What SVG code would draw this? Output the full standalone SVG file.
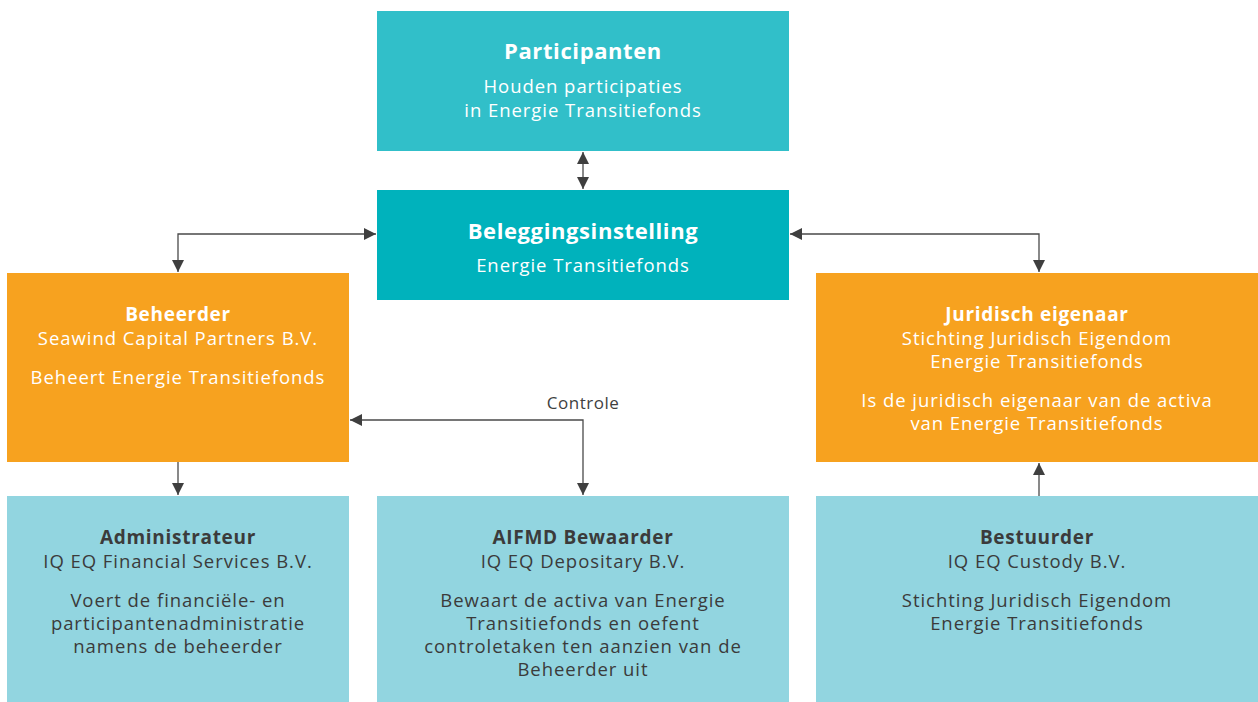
<svg xmlns="http://www.w3.org/2000/svg" width="1258" height="702" viewBox="0 0 1258 702">
  <defs>
    <style>
      text { font-family: "Open Sans", "Noto Sans", sans-serif; text-anchor: middle; }
      .w { fill: #ffffff; }
      .d { fill: #3b3b3b; }
      .big { font-size: 22px; font-weight: 700; letter-spacing: 0.6px; }
      .ttl { font-size: 19px; font-weight: 700; letter-spacing: 0.7px; }
      .txt { font-size: 18.5px; letter-spacing: 0.95px; }
      .lbl { font-size: 17px; font-weight: 400; letter-spacing: 0.5px; fill: #3f3f3f; }
      .link { fill: none; stroke: #4a4a4a; stroke-width: 1.3; }
    </style>
    <marker id="ah" viewBox="0 0 10 10" refX="10" refY="5" markerWidth="12" markerHeight="12" markerUnits="userSpaceOnUse" orient="auto-start-reverse">
      <path d="M0,0 L10,5 L0,10 z" fill="#3f3f3f"/>
    </marker>
  </defs>

  <rect width="1258" height="702" fill="#ffffff"/>

  <g id="connectors">
    <line class="link" x1="583" y1="152" x2="583" y2="189" marker-start="url(#ah)" marker-end="url(#ah)"/>
    <polyline class="link" points="376,234 178,234 178,272" marker-start="url(#ah)" marker-end="url(#ah)"/>
    <polyline class="link" points="790,234 1039,234 1039,272" marker-start="url(#ah)" marker-end="url(#ah)"/>
    <line class="link" x1="178" y1="462" x2="178" y2="495" marker-end="url(#ah)"/>
    <polyline class="link" points="350,420 583,420 583,495" marker-start="url(#ah)" marker-end="url(#ah)"/>
    <line class="link" x1="1039" y1="496" x2="1039" y2="463" marker-end="url(#ah)"/>
    <text class="lbl" x="583" y="409">Controle</text>
  </g>

  <g id="participanten">
    <rect x="377" y="11" width="412" height="140" fill="#31bfc9"/>
    <text class="w big" x="583" y="59">Participanten</text>
    <text class="w txt" x="583" y="93">Houden participaties</text>
    <text class="w txt" x="583" y="117">in Energie Transitiefonds</text>
  </g>

  <g id="beleggingsinstelling">
    <rect x="377" y="190" width="412" height="110" fill="#00b2bc"/>
    <text class="w big" x="583" y="239">Beleggingsinstelling</text>
    <text class="w txt" x="583" y="272">Energie Transitiefonds</text>
  </g>

  <g id="beheerder">
    <rect x="7" y="273" width="342" height="189" fill="#f7a21f"/>
    <text class="w ttl" x="178" y="321">Beheerder</text>
    <text class="w txt" x="178" y="345">Seawind Capital Partners B.V.</text>
    <text class="w txt" x="178" y="384">Beheert Energie Transitiefonds</text>
  </g>

  <g id="juridisch-eigenaar">
    <rect x="816" y="273" width="442" height="189" fill="#f7a21f"/>
    <text class="w ttl" x="1037" y="321">Juridisch eigenaar</text>
    <text class="w txt" x="1037" y="345">Stichting Juridisch Eigendom</text>
    <text class="w txt" x="1037" y="368">Energie Transitiefonds</text>
    <text class="w txt" x="1037" y="407">Is de juridisch eigenaar van de activa</text>
    <text class="w txt" x="1037" y="430">van Energie Transitiefonds</text>
  </g>

  <g id="administrateur">
    <rect x="7" y="496" width="342" height="206" fill="#92d5e0"/>
    <text class="d ttl" x="178" y="544">Administrateur</text>
    <text class="d txt" x="178" y="568">IQ EQ Financial Services B.V.</text>
    <text class="d txt" x="178" y="607">Voert de financiële- en</text>
    <text class="d txt" x="178" y="630">participantenadministratie</text>
    <text class="d txt" x="178" y="653">namens de beheerder</text>
  </g>

  <g id="aifmd-bewaarder">
    <rect x="377" y="496" width="412" height="206" fill="#92d5e0"/>
    <text class="d ttl" x="583" y="544">AIFMD Bewaarder</text>
    <text class="d txt" x="583" y="568">IQ EQ Depositary B.V.</text>
    <text class="d txt" x="583" y="607">Bewaart de activa van Energie</text>
    <text class="d txt" x="583" y="630">Transitiefonds en oefent</text>
    <text class="d txt" x="583" y="653">controletaken ten aanzien van de</text>
    <text class="d txt" x="583" y="676">Beheerder uit</text>
  </g>

  <g id="bestuurder">
    <rect x="816" y="496" width="442" height="206" fill="#92d5e0"/>
    <text class="d ttl" x="1037" y="544">Bestuurder</text>
    <text class="d txt" x="1037" y="568">IQ EQ Custody B.V.</text>
    <text class="d txt" x="1037" y="607">Stichting Juridisch Eigendom</text>
    <text class="d txt" x="1037" y="630">Energie Transitiefonds</text>
  </g>
</svg>
